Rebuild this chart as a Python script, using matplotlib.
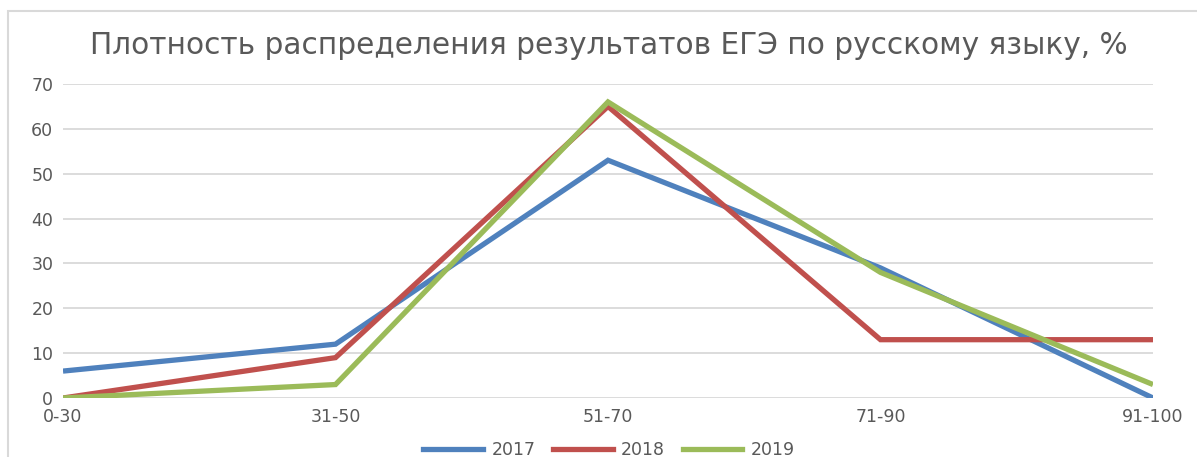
import matplotlib
matplotlib.use("Agg")
import matplotlib.pyplot as plt
from matplotlib.patches import Rectangle
from matplotlib.lines import Line2D

categories = ["0-30", "31-50", "51-70", "71-90", "91-100"]
series_names = ["2017", "2018", "2019"]
values_2017 = [6, 12, 53, 29, 0]
values_2018 = [0, 9, 65, 13, 13]
values_2019 = [0, 3, 66, 28, 3]
colors = ["#4F81BD", "#C0504D", "#9BBB59"]
yticks = [0, 10, 20, 30, 40, 50, 60, 70]
title = "Плотность распределения результатов ЕГЭ по русскому языку, %"

plt.rcParams['font.family'] = ['DejaVu Sans']
fig = plt.figure(figsize=(11.97, 4.57), dpi=100)
fig.patch.set_facecolor("white")

# outer chart border
fig.add_artist(Rectangle((8/1197, -0.05), 1.2, 1 - 11/457 + 0.05, transform=fig.transFigure,
                         fill=False, edgecolor="#D9D9D9", linewidth=1.5))

ax = fig.add_axes([63/1197, 1 - 398/457, (1153 - 63)/1197, (398 - 84)/457])
x = list(range(len(categories)))
for name, vals, c in zip(series_names, [values_2017, values_2018, values_2019], colors):
    ax.plot(x, vals, color=c, linewidth=3.8, label=name, solid_joinstyle="miter",
            solid_capstyle="butt", zorder=3)

ax.set_xlim(0, len(categories) - 1)
ax.set_ylim(0, 70)
ax.set_yticks(yticks)
ax.set_xticks(x)
ax.set_xticklabels(categories)
ax.grid(axis="y", color="#D9D9D9", linewidth=1.3, zorder=0)
for s in ax.spines.values():
    s.set_visible(False)
ax.tick_params(axis="both", length=0, colors="#595959", labelsize=12.5)
ax.tick_params(axis="y", pad=7)
ax.tick_params(axis="x", pad=7)

fig.text(609/1197, 1 - 46/457, title, ha="center", va="center", fontsize=21.3, color="#595959")

handles = [Line2D([0], [0], color=c, linewidth=3.8) for c in colors]
fig.legend(handles, series_names, loc="center", bbox_to_anchor=(609/1197, 1 - 450/457),
           ncol=3, frameon=False, fontsize=12.5, handlelength=3.45, columnspacing=1.0,
           handletextpad=0.5, labelcolor="#595959", borderpad=0.1)

fig.savefig("out.png", dpi=100, facecolor="white")
